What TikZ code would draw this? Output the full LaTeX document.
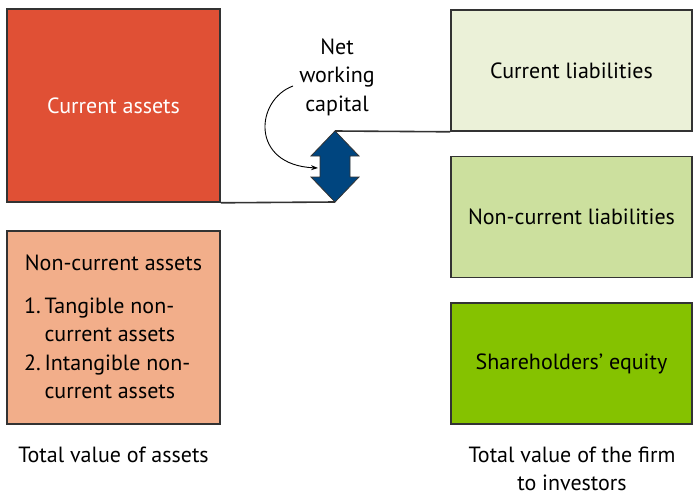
\documentclass[tikz,border=0pt]{standalone}
\usepackage{fontspec}
\setmainfont{PT Sans}
\usetikzlibrary{arrows.meta}
\definecolor{caRed}{HTML}{E05035}
\definecolor{ncaPeach}{HTML}{F2AE8A}
\definecolor{clPale}{HTML}{EBF1D8}
\definecolor{nclGreen}{HTML}{CCE09E}
\definecolor{seGreen}{HTML}{85C200}
\definecolor{nwcBlue}{HTML}{00457F}
\definecolor{edge}{HTML}{333333}
\tikzset{
  box/.style={draw=edge, line width=1.6pt, rectangle, minimum width=213pt, minimum height=193pt, inner sep=0pt, font=\fontsize{22}{28.5}\selectfont, align=center},
  rbox/.style={draw=edge, line width=1.6pt, rectangle, minimum width=241pt, minimum height=121pt, inner sep=0pt, font=\fontsize{22}{28.5}\selectfont, align=center},
  lbl/.style={font=\fontsize{22}{28.5}\selectfont, align=center, inner sep=0pt},
  link/.style={draw=edge, line width=1.6pt},
}
\begin{document}
\begin{tikzpicture}[x=1pt,y=-1pt]
\useasboundingbox (0,0) rectangle (700,497);
% left boxes
\node[box, fill=caRed, text=white] (ca) at (113.5,105.5) {Current assets};
\node[box, fill=ncaPeach] (nca) at (113.5,327.5) {};
\node[lbl] (ncat) at (113.5,263) {Non-current assets};
\node[lbl, anchor=west, align=left] (nca1) at (24,320) {1.\,Tangible non-\\\hphantom{1.\,}current assets};
\node[lbl, anchor=west, align=left] (nca2) at (24,377) {2.\,Intangible non-\\\hphantom{2.\,}current assets};
% right boxes
\node[rbox, fill=clPale] (cl) at (571.5,70.5) {Current liabilities};
\node[rbox, fill=nclGreen] (ncl) at (571.5,217) {Non-current liabilities};
\node[rbox, fill=seGreen] (se) at (571.5,363.5) {Shareholders’ equity};
% captions
\node[lbl] (tva) at (113.5,455) {Total value of assets};
\node[lbl] (tvf) at (572,469) {Total value of the firm\\to investors};
% net working capital arrow
\coordinate (nwcTop) at (335,131);
\coordinate (nwcBot) at (335,202);
\draw[link] (ca.south east) -- (nwcBot);
\draw[link] (nwcTop) -- (cl.south west);
\filldraw[fill=nwcBlue, draw=edge, line width=0.8pt]
  (nwcTop) -- (359,156) -- (350,156) -- (350,177) -- (359,177) -- (nwcBot)
  -- (311,177) -- (320,177) -- (320,156) -- (311,156) -- cycle;
\node[lbl] (nwc) at (337,77) {Net\\working\\capital};
\coordinate (nwcIn) at (318,168);
\draw[-{Stealth[length=7pt,width=5pt]}, line width=0.9pt] (293,86) .. controls (255,100) and (250,165) .. (nwcIn);
\end{tikzpicture}
\end{document}
